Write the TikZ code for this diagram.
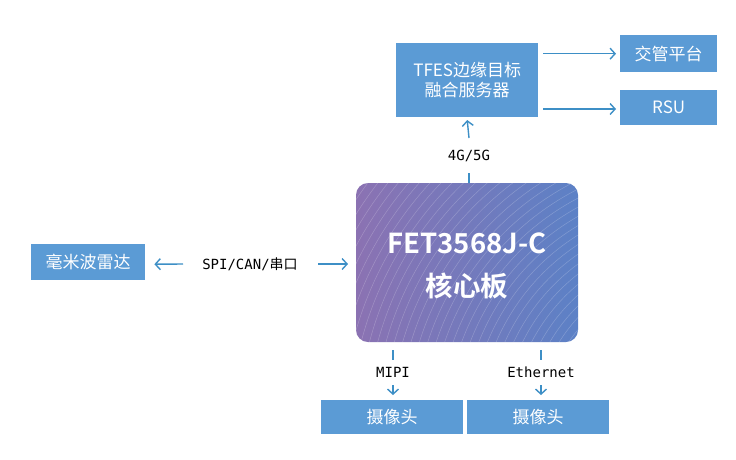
\documentclass[tikz,border=0pt]{standalone}
\usepackage{fontspec}
\setmainfont{Noto Sans CJK SC}
\newfontfamily\monof{DejaVu Sans Mono}
\newfontfamily\boldf{Noto Sans CJK SC Bold}
\usetikzlibrary{arrows.meta,calc}
\definecolor{boxblue}{HTML}{5B9BD5}
\definecolor{arrblue}{HTML}{3D8FC6}
\definecolor{coreL}{HTML}{8B72B2}
\definecolor{coreR}{HTML}{5C81C6}
\tikzset{
  bluebox/.style={fill=boxblue, draw=none, text=white, font=\fontsize{17}{20}\selectfont, inner sep=0pt, anchor=north west},
  conn/.style={draw=arrblue, line width=1.4pt},
  arr/.style={conn, -{Straight Barb[length=5pt,width=11pt,line width=1.4pt]}},
  lbl/.style={font=\monof\fontsize{14}{16}\selectfont, text=black, inner sep=0pt}
}
\begin{document}
\begin{tikzpicture}[x=1pt,y=-1pt]
\useasboundingbox[fill=white] (0,0) rectangle (736,459);
% boxes
\node[bluebox, minimum width=142pt, minimum height=74pt, align=center] (tfes) at (396,43) {TFES边缘目标\\融合服务器};
\node[bluebox, minimum width=97pt, minimum height=37pt] (jg) at (620,35) {交管平台};
\node[bluebox, minimum width=97pt, minimum height=35pt] (rsu) at (620,90) {RSU};
\node[bluebox, minimum width=114pt, minimum height=36pt] (radar) at (31,244) {毫米波雷达};
\node[bluebox, minimum width=142pt, minimum height=34pt] (cam1) at (321,400) {摄像头};
\node[bluebox, minimum width=142pt, minimum height=34pt] (cam2) at (467,400) {摄像头};
% core board
\shade[left color=coreL, right color=coreR, rounded corners=12pt] (356,183) rectangle (578,342);
\begin{scope}
\clip[rounded corners=12pt] (356,183) rectangle (578,342);
\foreach \r in {150,158,...,440} \draw[white, opacity=0.22, line width=0.5pt] (700,430) circle (\r);
\end{scope}
\node[minimum width=222pt, minimum height=159pt, anchor=north west, inner sep=0pt] (core) at (356,183) {};
\node[text=white, align=center, font=\boldf\fontsize{27.5}{43}\selectfont] (coretxt) at (467,266) {FET3568J-C\\核心板};
% labels
\node[lbl] (l45) at (469,156) {4G/5G};
\node[lbl] (lspi) at (250,264) {SPI/CAN/{\rmfamily 串口}};
\node[lbl] (lmipi) at (393,372) {MIPI};
\node[lbl] (leth) at (541,372) {Ethernet};
% coordinates
\coordinate (c45a) at (469,173);
\coordinate (c45b) at (469,138);
\coordinate (cspiL) at (183,264);
\coordinate (cspiR) at (318,264);
\coordinate (cm1) at (393,360);
\coordinate (cm2) at (393,385);
\coordinate (ce1) at (541,360);
\coordinate (ce2) at (541,385);
% connectors
\draw[conn] (core.north -| c45a) -- (c45a);
\draw[arr] (c45b) -- (tfes.south |- 0,120);
\draw[arr] ($(tfes.east |- jg.west)+(5,0)$) -- ($(jg.west)+(-4,0)$);
\draw[arr] ($(tfes.east |- 0,109)+(5,0)$) -- ($(rsu.west |- 0,109)+(-4,0)$);
\draw[arr] (cspiL) -- ($(radar.east)+(9,2)$);
\draw[arr] (cspiR) -- ($(core.west |- cspiR)+(-8,0)$);
\draw[conn] ($(core.south -| cm1)+(0,8)$) -- (cm1);
\draw[arr] (cm2) -- ($(cam1.north -| cm2)+(0,-5)$);
\draw[conn] ($(core.south -| ce1)+(0,8)$) -- (ce1);
\draw[arr] (ce2) -- ($(cam2.north -| ce2)+(0,-5)$);
\end{tikzpicture}
\end{document}
